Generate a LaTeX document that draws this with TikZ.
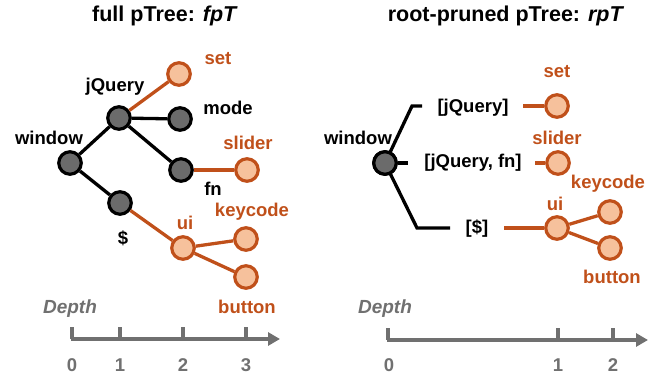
\documentclass[tikz,border=0pt]{standalone}
\usepackage{fontspec}
\setmainfont{Liberation Sans}
\usetikzlibrary{arrows.meta}
\definecolor{rust}{HTML}{C0501A}
\definecolor{peach}{HTML}{F6C19C}
\definecolor{darkfill}{HTML}{6B6B6B}
\definecolor{axisgray}{HTML}{707070}
\tikzset{
  dark/.style={circle,draw=black,fill=darkfill,line width=3.2pt,minimum size=22.5pt,inner sep=0pt},
  lit/.style={circle,draw=rust,fill=peach,line width=3.2pt,minimum size=22.5pt,inner sep=0pt},
  blk/.style={draw=black,line width=3.3pt},
  org/.style={draw=rust,line width=3.3pt},
  lbl/.style={text=black,inner sep=0pt},
  olbl/.style={text=rust,inner sep=0pt},
  ttl/.style={text=black,inner sep=0pt,font=\bfseries\fontsize{21.5}{24}\selectfont},
  axisline/.style={draw=axisgray,line width=3.8pt,-{Triangle[length=12pt,width=13pt]}},
  tickmark/.style={draw=axisgray,line width=3.8pt},
  num/.style={text=axisgray,inner sep=0pt},
  depthlbl/.style={text=axisgray,inner sep=0pt,font=\bfseries\itshape\fontsize{19}{22}\selectfont}
}
\begin{document}
\begin{tikzpicture}[x=1pt,y=-1pt,font=\bfseries\fontsize{18.5}{21}\selectfont]
\useasboundingbox (0,0) rectangle (672,377);

% ---------- full pTree ----------
\node[ttl] (t1) at (165,16) {full pTree: \textit{fpT}};

\node[dark] (w)  at (70,163)  {};
\node[dark] (jq) at (119,118) {};
\node[lit]  (st) at (179,74)  {};
\node[dark] (md) at (180,119) {};
\node[dark] (fn) at (181,170) {};
\node[lit]  (sl) at (247,170) {};
\node[dark] (dl) at (120,203) {};
\node[lit]  (ui) at (183,248) {};
\node[lit]  (kc) at (246,239) {};
\node[lit]  (bt) at (246,277) {};

\draw[blk] (w) -- (jq);
\draw[blk] (w) -- (dl);
\draw[blk] (jq) -- (md);
\draw[blk] (jq) -- (fn);
\draw[org] (jq) -- (st);
\draw[org] (fn) -- (sl);
\draw[org] (dl) -- (ui);
\draw[org] (ui) -- (kc);
\draw[org] (ui) -- (bt);

\node[olbl] (lst) at (218,59)  {set};
\node[lbl]  (ljq) at (115,87)  {jQuery};
\node[lbl]  (lmd) at (228,108) {mode};
\node[lbl]  (lw)  at (49,138)  {window};
\node[olbl] (lsl) at (248,143) {slider};
\node[lbl]  (lfn) at (213,189) {fn};
\node[lbl]  (ldl) at (123,238) {\$};
\node[olbl] (lui) at (185,223) {ui};
\node[olbl] (lkc) at (252,212) {keycode};
\node[olbl] (lbt) at (247,307) {button};

% depth axis
\node[depthlbl] (d1) at (70,309) {Depth};
\coordinate (a0) at (70.5,339);
\coordinate (a1) at (280,339);
\draw[axisline] (a0) -- (a1);
\coordinate (k0) at (72,327);  \coordinate (k0b) at (72,339);
\coordinate (k1) at (120,327); \coordinate (k1b) at (120,339);
\coordinate (k2) at (183,327); \coordinate (k2b) at (183,339);
\coordinate (k3) at (246,327); \coordinate (k3b) at (246,339);
\draw[tickmark] (k0) -- (k0b);
\draw[tickmark] (k1) -- (k1b);
\draw[tickmark] (k2) -- (k2b);
\draw[tickmark] (k3) -- (k3b);
\node[num] (n0) at (72,365)  {0};
\node[num] (n1) at (120,365) {1};
\node[num] (n2) at (183,365) {2};
\node[num] (n3) at (246,365) {3};

% ---------- root-pruned pTree ----------
\node[ttl] (t2) at (506,16) {root-pruned pTree: \textit{rpT}};

\node[dark] (rw)  at (385,163) {};
\node[lit]  (rst) at (557,106) {};
\node[lit]  (rsl) at (558,163) {};
\node[lit]  (rui) at (557,228) {};
\node[lit]  (rkc) at (610,212) {};
\node[lit]  (rbt) at (610,248) {};

\coordinate (b1) at (412,106);
\coordinate (b1e) at (422,106);
\coordinate (b2e) at (408,163);
\coordinate (b3) at (417,228);
\coordinate (b3e) at (450,228);
\draw[blk] (rw.center) -- (b1) -- (b1e);
\draw[blk] (rw) -- (b2e);
\draw[blk] (rw.center) -- (b3) -- (b3e);
\node[dark] at (rw) {};

\node[lbl] (pjq)  at (473,108) {[jQuery]};
\node[lbl] (pjqf) at (473,163) {[jQuery, fn]};
\node[lbl] (pdl)  at (477,229) {[\$]};

\coordinate (s1) at (523,106);
\coordinate (s2) at (535,163);
\coordinate (s3) at (504,228);
\draw[org] (s1) -- (rst);
\draw[org] (s2) -- (rsl);
\draw[org] (s3) -- (rui);
\draw[org] (rui) -- (rkc);
\draw[org] (rui) -- (rbt);

\node[olbl] (rlst) at (557,72)  {set};
\node[lbl]  (rlw)  at (358,138) {window};
\node[olbl] (rlsl) at (557,138) {slider};
\node[olbl] (rlui) at (555,204) {ui};
\node[olbl] (rlkc) at (608,184) {keycode};
\node[olbl] (rlbt) at (612,277) {button};

% depth axis
\node[depthlbl] (d2) at (385,309) {Depth};
\coordinate (c0) at (386.5,340);
\coordinate (c1) at (648,340);
\draw[axisline] (c0) -- (c1);
\coordinate (m0) at (388,328); \coordinate (m0b) at (388,340);
\coordinate (m1) at (558,328); \coordinate (m1b) at (558,340);
\coordinate (m2) at (613,328); \coordinate (m2b) at (613,340);
\draw[tickmark] (m0) -- (m0b);
\draw[tickmark] (m1) -- (m1b);
\draw[tickmark] (m2) -- (m2b);
\node[num] (p0) at (389,365) {0};
\node[num] (p1) at (558,365) {1};
\node[num] (p2) at (613,365) {2};
\end{tikzpicture}
\end{document}
